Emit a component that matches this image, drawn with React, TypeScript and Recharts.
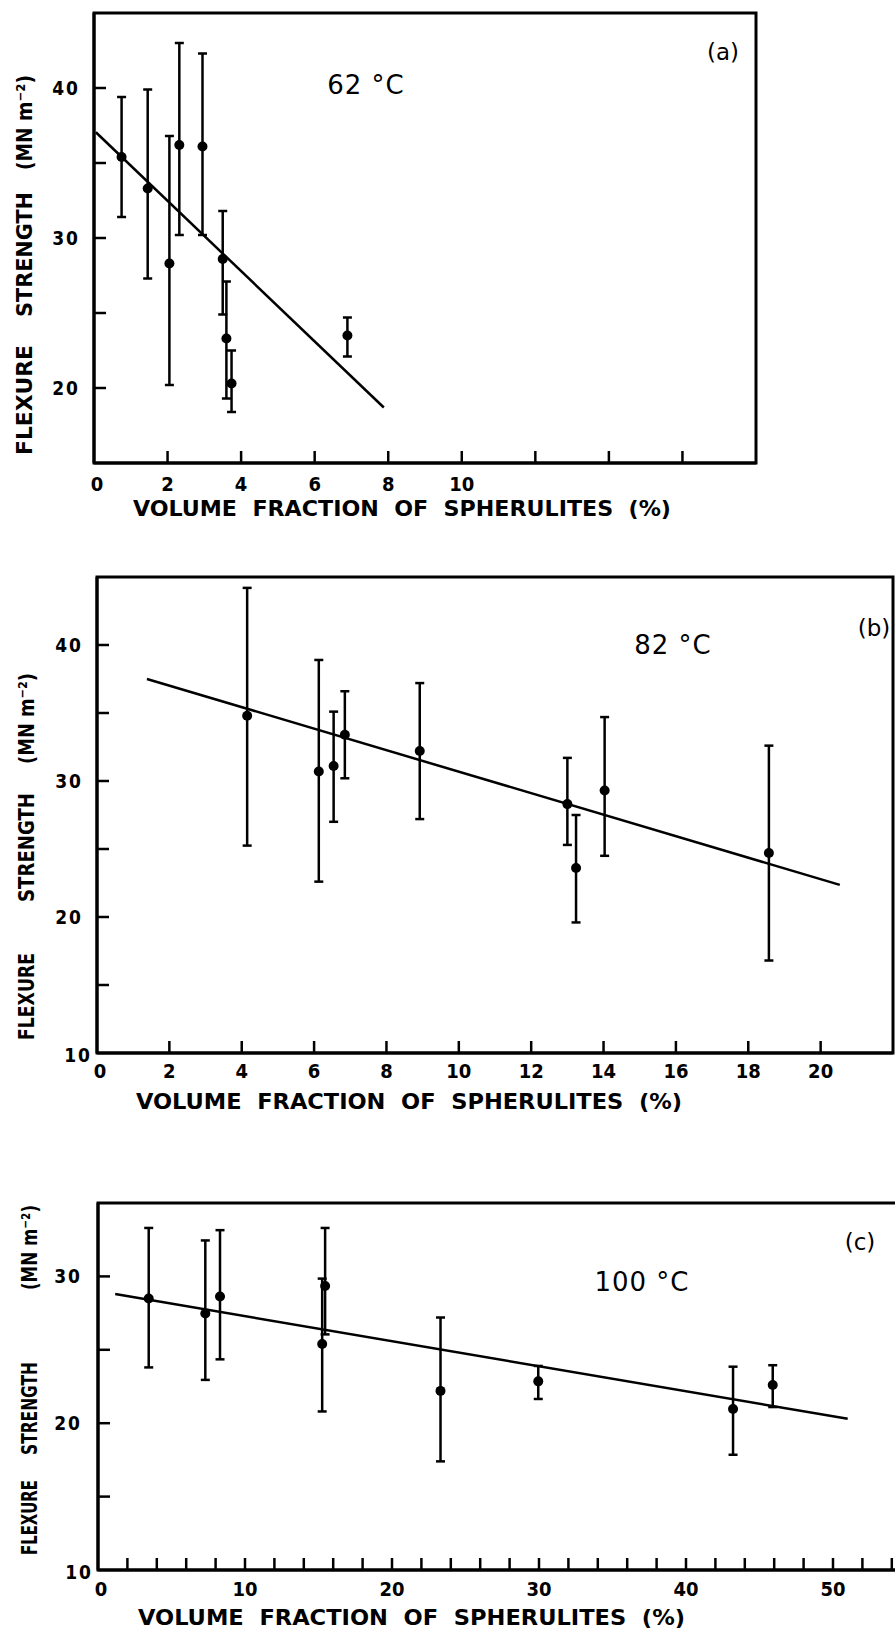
import { ScatterChart, Scatter, XAxis, YAxis, ErrorBar, ReferenceLine, ReferenceArea, Label } from 'recharts';

// (a) 62 °C
const xA = [0.75, 1.46, 2.05, 2.32, 2.95, 3.5, 3.6, 3.74, 6.89];
const yA = [35.4, 33.3, 28.3, 36.2, 36.1, 28.6, 23.3, 20.3, 23.5];
const loA = [31.4, 27.3, 20.2, 30.2, 30.2, 24.9, 19.3, 18.4, 22.1];
const hiA = [39.4, 39.9, 36.8, 43.0, 42.3, 31.8, 27.1, 22.5, 24.7];
const fitXA = [0.05, 7.88];
const fitYA = [37.05, 18.7];
const xTicksA = [0, 2, 4, 6, 8, 10, 12, 14, 16];
const xLabelsA = [0, 2, 4, 6, 8, 10];
const yTicksA = [15, 20, 25, 30, 35, 40];
const yLabelsA = [20, 30, 40];

// (b) 82 °C
const xB = [4.15, 6.13, 6.54, 6.85, 8.92, 13.0, 13.24, 14.03, 18.57];
const yB = [34.8, 30.7, 31.1, 33.4, 32.2, 28.3, 23.6, 29.3, 24.7];
const loB = [25.25, 22.6, 27.0, 30.2, 27.2, 25.3, 19.6, 24.5, 16.8];
const hiB = [44.2, 38.9, 35.1, 36.6, 37.2, 31.7, 27.5, 34.7, 32.6];
const fitXB = [1.38, 20.53];
const fitYB = [37.5, 22.36];
const xTicksB = [0, 2, 4, 6, 8, 10, 12, 14, 16, 18, 20];
const xLabelsB = [0, 2, 4, 6, 8, 10, 12, 14, 16, 18, 20];
const yTicksB = [10, 15, 20, 25, 30, 35, 40];
const yLabelsB = [10, 20, 30, 40];

// (c) 100 °C
const xC = [3.45, 7.3, 8.3, 15.25, 15.45, 23.3, 29.95, 43.2, 45.9];
const yC = [28.5, 27.47, 28.63, 25.4, 29.35, 22.2, 22.85, 20.97, 22.6];
const loC = [23.8, 22.95, 24.35, 20.8, 26.05, 17.4, 21.65, 17.85, 21.1];
const hiC = [33.3, 32.45, 33.15, 29.85, 33.3, 27.2, 23.9, 23.85, 23.95];
const fitXC = [1.17, 51.0];
const fitYC = [28.8, 20.3];
const xTicksC = [0, 2, 4, 6, 8, 10, 12, 14, 16, 18, 20, 22, 24, 26, 28, 30, 32, 34, 36, 38, 40, 42, 44, 46, 48, 50, 52, 54];
const xLabelsC = [0, 10, 20, 30, 40, 50];
const yTicksC = [10, 15, 20, 25, 30];
const yLabelsC = [10, 20, 30];

const TITLE_X = 'VOLUME  FRACTION  OF  SPHERULITES  (%)';
const TITLE_Y = ['FLEXURE', 'STRENGTH', '(MN m\u207B\u00B2)'];

const AXIS_W = 60;
const AXIS_H = 30;

const tickFont = {
  fontFamily: "'DejaVu Sans Condensed', 'DejaVu Sans', sans-serif",
  fontWeight: 700,
  fontSize: 20,
  fill: '#000',
};
const titleFont = {
  fontFamily: "'DejaVu Sans Condensed', 'DejaVu Sans', sans-serif",
  fontWeight: 700,
  fontSize: 21,
  fill: '#000',
};
const noteFont = {
  fontFamily: "'DejaVu Sans', sans-serif",
  fontWeight: 400,
  fontSize: 26,
  fill: '#000',
};

function XTick(props: any) {
  const { x, y, payload, labels, len, dy } = props;
  const v = payload.value;
  return (
    <g>
      {v > 0 && <line x1={x} y1={y} x2={x} y2={y - len} stroke="#000" strokeWidth={2.5} />}
      {labels.includes(v) && (
        <text x={x + (v === 0 ? 3 : 0)} y={y + dy} textAnchor="middle" style={tickFont}>
          {v}
        </text>
      )}
    </g>
  );
}

function YTick(props: any) {
  const { x, y, payload, labels, len, dx, min } = props;
  const v = payload.value;
  const isMin = v === min;
  return (
    <g>
      {!isMin && <line x1={x} y1={y} x2={x + len} y2={y} stroke="#000" strokeWidth={2.5} />}
      {labels.includes(v) && (
        <text
          x={isMin ? x - 5 : x - dx}
          y={isMin ? y + 9 : y + 7}
          textAnchor="end"
          style={{ ...tickFont, fontSize: 19, letterSpacing: 2 }}
        >
          {v}
        </text>
      )}
    </g>
  );
}

function Panel(props: any) {
  const {
    xs, ys, lo, hi, fitX, fitY, xDomain, yDomain, xTicks, xLabels, yTicks, yLabels,
    top, width, height, plot, title, yTitle, temp, tag, xDy, yDx,
  } = props;

  const data = xs.map((x: number, i: number) => ({
    x,
    y: ys[i],
    err: [ys[i] - lo[i], hi[i] - ys[i]],
  }));

  const decor = (
    <g>
      <text
        x={title.x0}
        y={title.y - top}
        textLength={title.x1 - title.x0}
        lengthAdjust="spacingAndGlyphs"
        style={{ ...titleFont, fontSize: 22, whiteSpace: 'pre' }}
      >
        {TITLE_X}
      </text>
      {TITLE_Y.map((w, i) => {
        const [b, t] = yTitle.parts[i];
        const cy = (b + t) / 2 - top;
        return (
          <text
            key={w}
            x={yTitle.x}
            y={cy}
            transform={`rotate(-90 ${yTitle.x} ${cy})`}
            textAnchor="middle"
            dominantBaseline="central"
            textLength={b - t}
            lengthAdjust="spacingAndGlyphs"
            style={{ ...titleFont, fontSize: 21 }}
          >
            {w}
          </text>
        );
      })}
      <text
        x={temp.x}
        y={temp.y - top}
        textAnchor="middle"
        dominantBaseline="central"
        style={{ ...noteFont, letterSpacing: 1 }}
      >
        {temp.text}
      </text>
      <text x={tag.x} y={tag.y - top} textAnchor="middle" dominantBaseline="central" style={{ ...noteFont, fontSize: 23 }}>
        {tag.text}
      </text>
    </g>
  );

  return (
    <div style={{ position: 'absolute', left: 0, top }}>
      <ScatterChart
        width={width}
        height={height}
        margin={{
          top: plot.top - top,
          bottom: top + height - plot.bottom - AXIS_H,
          left: plot.left - AXIS_W,
          right: width - plot.right,
        }}
      >
        <XAxis
          type="number"
          dataKey="x"
          domain={xDomain}
          ticks={xTicks}
          interval={0}
          allowDataOverflow
          height={AXIS_H}
          tickSize={0}
          tickMargin={0}
          tickLine={false}
          axisLine={{ stroke: '#000', strokeWidth: 3 }}
          tick={(p: any) => <XTick {...p} labels={xLabels} len={12} dy={xDy} />}
        >
          <Label content={() => decor} />
        </XAxis>
        <YAxis
          type="number"
          dataKey="y"
          domain={yDomain}
          ticks={yTicks}
          interval={0}
          allowDataOverflow
          width={AXIS_W}
          tickSize={0}
          tickMargin={0}
          tickLine={false}
          axisLine={{ stroke: '#000', strokeWidth: 3 }}
          tick={(p: any) => <YTick {...p} labels={yLabels} len={12} dx={yDx} min={yDomain[0]} />}
        />
        <ReferenceArea
          x1={xDomain[0]}
          x2={xDomain[1]}
          y1={yDomain[0]}
          y2={yDomain[1]}
          fill="none"
          stroke="#000"
          strokeWidth={3}
          ifOverflow="visible"
        />
        <ReferenceLine
          segment={[
            { x: fitX[0], y: fitY[0] },
            { x: fitX[1], y: fitY[1] },
          ]}
          stroke="#000"
          strokeWidth={2.5}
          ifOverflow="visible"
        />
        <Scatter
          data={data}
          isAnimationActive={false}
          shape={(p: any) => <circle cx={p.cx} cy={p.cy} r={5} fill="#000" />}
        >
          <ErrorBar dataKey="err" direction="y" width={4.5} stroke="#000" strokeWidth={2.5} isAnimationActive={false} />
        </Scatter>
      </ScatterChart>
    </div>
  );
}

export default function App() {
  return (
    <div
      style={{
        position: 'absolute',
        left: 0,
        top: 0,
        width: 895,
        height: 1632,
        overflow: 'hidden',
        background: '#fff',
      }}
    >
      <Panel
        xs={xA} ys={yA} lo={loA} hi={hiA} fitX={fitXA} fitY={fitYA}
        xDomain={[0, 18]} yDomain={[15, 45]}
        xTicks={xTicksA} xLabels={xLabelsA} yTicks={yTicksA} yLabels={yLabelsA}
        top={0} width={895} height={530}
        plot={{ left: 94, right: 756, top: 13, bottom: 463 }}
        xDy={28} yDx={14}
        title={{ x0: 133, x1: 671, y: 516 }}
        yTitle={{ x: 25, parts: [[455, 345], [317, 192], [170, 75]] }}
        temp={{ text: '62 °C', x: 366, y: 85 }}
        tag={{ text: '(a)', x: 723, y: 52 }}
      />
      <Panel
        xs={xB} ys={yB} lo={loB} hi={hiB} fitX={fitXB} fitY={fitYB}
        xDomain={[0, 22]} yDomain={[10, 45]}
        xTicks={xTicksB} xLabels={xLabelsB} yTicks={yTicksB} yLabels={yLabelsB}
        top={540} width={895} height={580}
        plot={{ left: 97, right: 893, top: 577, bottom: 1053 }}
        xDy={25} yDx={14}
        title={{ x0: 136, x1: 682, y: 1109 }}
        yTitle={{ x: 27, parts: [[1040, 953], [902, 793], [764, 673]] }}
        temp={{ text: '82 °C', x: 673, y: 645 }}
        tag={{ text: '(b)', x: 874, y: 628 }}
      />
      <Panel
        xs={xC} ys={yC} lo={loC} hi={hiC} fitX={fitXC} fitY={fitYC}
        xDomain={[0, 55]} yDomain={[10, 35]}
        xTicks={xTicksC} xLabels={xLabelsC} yTicks={yTicksC} yLabels={yLabelsC}
        top={1130} width={920} height={502}
        plot={{ left: 98, right: 906.5, top: 1203, bottom: 1570 }}
        xDy={26} yDx={16}
        title={{ x0: 138, x1: 685, y: 1625 }}
        yTitle={{ x: 30, parts: [[1555, 1480], [1455, 1362], [1290, 1205]] }}
        temp={{ text: '100 °C', x: 642, y: 1282 }}
        tag={{ text: '(c)', x: 860, y: 1242 }}
      />
    </div>
  );
}
